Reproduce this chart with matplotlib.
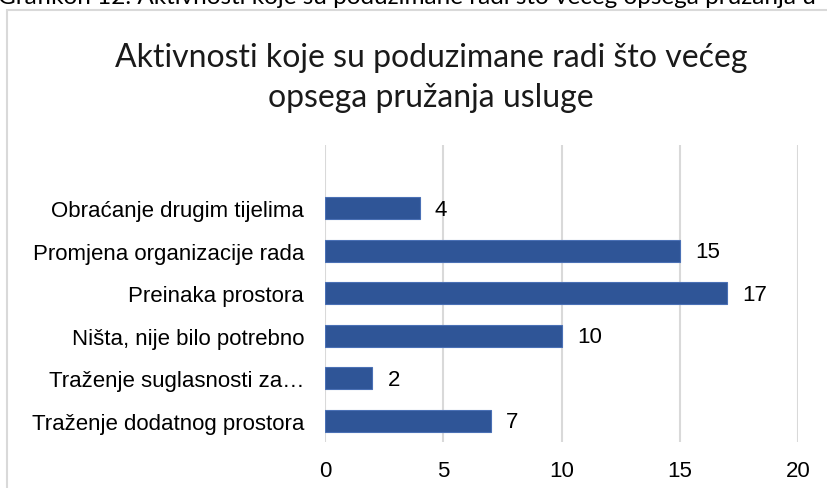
import matplotlib.pyplot as plt
from matplotlib.patches import Rectangle

# data
categories = ['Obraćanje drugim tijelima', 'Promjena organizacije rada', 'Preinaka prostora',
              'Ništa, nije bilo potrebno', 'Traženje suglasnosti za…', 'Traženje dodatnog prostora']
values = [4, 15, 17, 10, 2, 7]
xticks = [0, 5, 10, 15, 20]
title = 'Aktivnosti koje su poduzimane radi što većeg\nopsega pružanja usluge'
caption = 'Grafikon 12. Aktivnosti koje su poduzimane radi što većeg opsega pružanja u'

W, H = 828, 489
fig = plt.figure(figsize=(W / 100, H / 100), dpi=100)
fig.patch.set_facecolor('white')

# chart border (cut by the image edges)
fig.patches.append(Rectangle((7 / W, -0.2), 1.2, 1.2 - 11 / H, transform=fig.transFigure,
                             fill=False, edgecolor='#d9d9d9', linewidth=1.5))

# caption cut at top
fig.text(-0.002, 1 - 4 / H, caption, fontsize=17.5, family='Lato', color='black', va='baseline', ha='left')

fig.text(431 / W, 1 - 78 / H, title, fontsize=23, family='Lato', ha='center', va='center',
         linespacing=1.45, color='#1a1a1a')

lbl = dict(family='Liberation Sans', fontsize=16)

ax = fig.add_axes([325 / W, 1 - 443 / H, (798 - 325) / W, (443 - 146) / H])
ypos = list(range(len(categories)))[::-1]
ax.barh(ypos, values, height=0.52, color='#2F5597', edgecolor='#4a70b5', linewidth=0.8, zorder=3)
for y, v in zip(ypos, values):
    ax.text(v + 0.65, y - 0.02, str(v), va='center', ha='left', color='black', **lbl)

ax.set_xlim(0, 20)
ax.set_ylim(-0.5, 6.49)
ax.set_xticks(xticks)
ax.set_xticklabels([str(t) for t in xticks], **lbl)
ax.set_yticks(ypos)
ax.set_yticklabels(categories, **lbl)
ax.tick_params(axis='both', length=0)
ax.tick_params(axis='x', pad=13)
ax.tick_params(axis='y', pad=15)
ax.grid(axis='x', color='#d9d9d9', linewidth=1.5, zorder=0)
for s in ax.spines.values():
    s.set_visible(False)

fig.savefig('out.png', dpi=100)
